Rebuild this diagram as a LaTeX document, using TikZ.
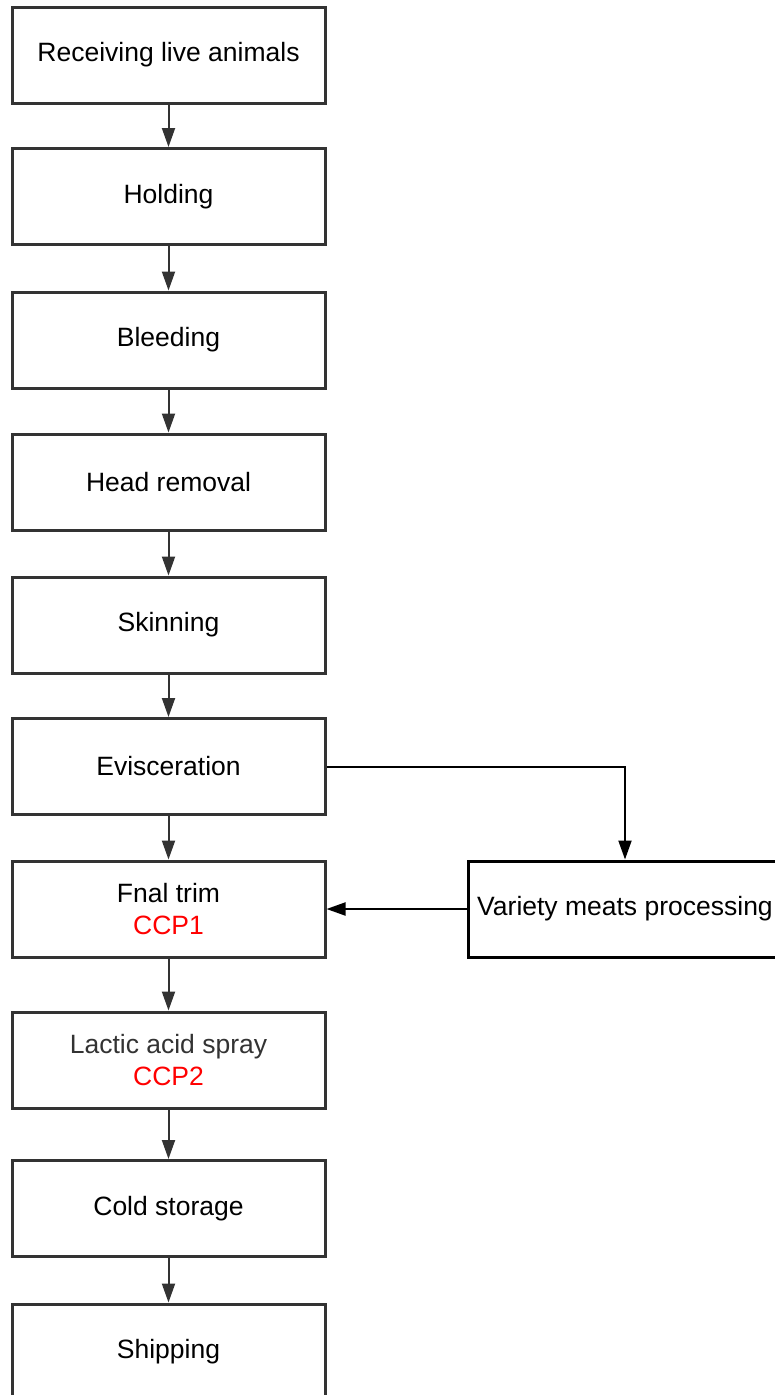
\documentclass[tikz,border=0pt]{standalone}
\usepackage{fontspec}
\setmainfont{Liberation Sans}
\usetikzlibrary{arrows.meta}
\definecolor{boxgray}{HTML}{333333}
\definecolor{ccpred}{HTML}{FF0000}
\begin{document}
\begin{tikzpicture}[x=1pt,y=-1pt,
  stepbox/.style={draw=boxgray,line width=3pt,minimum width=313pt,minimum height=96pt,inner sep=0pt,align=center,font=\fontsize{26.5}{32}\selectfont},
  varbox/.style={draw=black,line width=3pt,minimum width=314pt,minimum height=96pt,inner sep=0pt,align=center,font=\fontsize{26.5}{32}\selectfont},
  flow/.style={draw=boxgray,line width=2pt,-{Triangle[length=19pt,width=13pt]}},
  vflow/.style={draw=black,line width=2pt,-{Triangle[length=19pt,width=13pt]}}]
\useasboundingbox (0,0) rectangle (774,1395);
\node[stepbox] (n1) at (168.5,55) {Receiving live animals};
\node[stepbox] (n2) at (168.5,196.5) {Holding};
\node[stepbox] (n3) at (168.5,340) {Bleeding};
\node[stepbox] (n4) at (168.5,482) {Head removal};
\node[stepbox] (n5) at (168.5,625) {Skinning};
\node[stepbox] (n6) at (168.5,766.5) {Evisceration};
\node[stepbox] (n7) at (168.5,909) {Fnal trim\\\textcolor{ccpred}{CCP1}};
\node[stepbox] (n8) at (168.5,1060) {\textcolor{boxgray}{Lactic acid spray}\\\textcolor{ccpred}{CCP2}};
\node[stepbox] (n9) at (168.5,1208.5) {Cold storage};
\node[stepbox] (n10) at (168.5,1352) {Shipping};
\node[varbox] (v) at (625,909) {Variety meats processing};
\draw[flow] (n1) -- (n2);
\draw[flow] (n2) -- (n3);
\draw[flow] (n3) -- (n4);
\draw[flow] (n4) -- (n5);
\draw[flow] (n5) -- (n6);
\draw[flow] (n6) -- (n7);
\draw[flow] (n7) -- (n8);
\draw[flow] (n8) -- (n9);
\draw[flow] (n9) -- (n10);
\draw[vflow] (n6.east) -| (v.north);
\draw[vflow] (v.west) -- (n7.east);
\end{tikzpicture}
\end{document}
